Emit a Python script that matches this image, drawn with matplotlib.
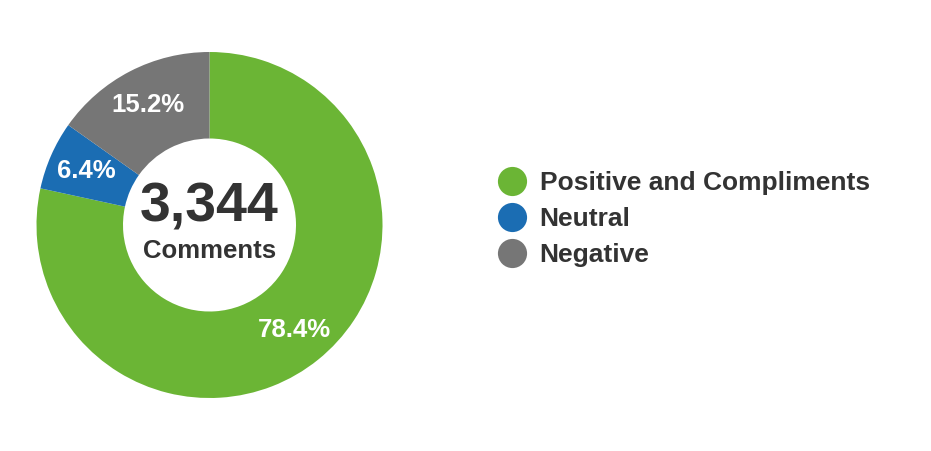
import matplotlib.pyplot as plt
from matplotlib.lines import Line2D

plt.rcParams['font.family'] = ['Liberation Sans', 'DejaVu Sans']
plt.rcParams['font.weight'] = 'bold'

categories = ['Positive and Compliments', 'Neutral', 'Negative']
shares = [78.4, 6.4, 15.2]
colors = ['#6bb535', '#1b6db3', '#767676']
total_comments = '3,344'
text_color = '#333333'

fig = plt.figure(figsize=(9.31, 4.51), dpi=100)
ax = fig.add_axes([36.5 / 931, 53 / 451, 346 / 931, 346 / 451])

wedges, _, pcts = ax.pie(
    shares, colors=colors, startangle=90, counterclock=False,
    radius=1, wedgeprops={'width': 0.5, 'linewidth': 0},
    autopct='%.1f%%', pctdistance=0.78,
    textprops={'color': 'white', 'fontsize': 18.5, 'fontweight': 'bold'},
)
ax.set_xlim(-1, 1)
ax.set_ylim(-1, 1)
ax.set_aspect('equal')
ax.axis('off')

ax.text(0, 0.1, total_comments, ha='center', va='center',
        fontsize=40, fontweight='bold', color=text_color)
ax.text(0, -0.15, 'Comments', ha='center', va='center',
        fontsize=18.5, fontweight='bold', color=text_color)

handles = [Line2D([], [], marker='o', linestyle='none', markersize=21,
                  markerfacecolor=c, markeredgewidth=0) for c in colors]
leg = fig.legend(handles, categories, loc='center left',
                 bbox_to_anchor=(499 / 931, 1 - 219 / 451),
                 frameon=False, fontsize=19, handlelength=1.0,
                 handletextpad=0.54, labelspacing=0.45, borderpad=0,
                 borderaxespad=0)
for t in leg.get_texts():
    t.set_color(text_color)
    t.set_fontweight('bold')

fig.savefig('out.png', dpi=100, facecolor='white')
plt.close(fig)
